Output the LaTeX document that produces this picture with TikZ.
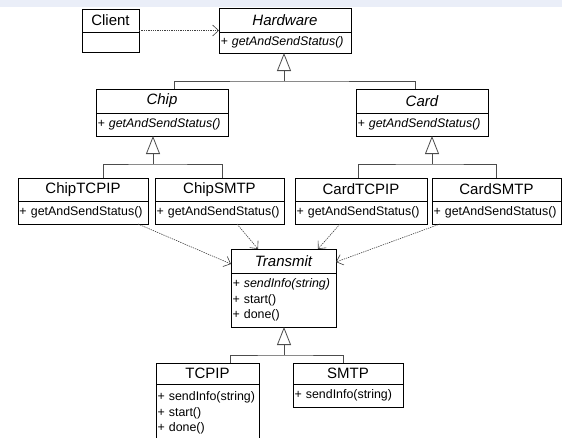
\documentclass[tikz,border=0pt]{standalone}
\usepackage{fontspec}
\setmainfont{Liberation Sans}
\usetikzlibrary{arrows.meta}
\newcommand\clsfont{\fontsize{15}{18}\selectfont}
\newcommand\mthfont{\fontsize{12.4}{15.5}\selectfont\hyphenpenalty=10000\exhyphenpenalty=10000}
\definecolor{bandblue}{RGB}{234,238,248}
\begin{document}
\begin{tikzpicture}[x=1pt,y=-1pt,
  cls/.style={draw=black, line width=0.9pt, fill=white, inner sep=0pt, outer sep=0pt,
              anchor=north west, font=\clsfont},
  mth/.style={draw=black, line width=0.9pt, fill=white, inner xsep=1.5pt, inner ysep=0pt,
              outer sep=0pt, anchor=north west, align=left, font=\mthfont},
  tree/.style={draw=black!70, line width=0.8pt},
  gen/.style={tree, -{Triangle[open, length=18pt, width=14pt, fill=white]}},
  dep/.style={draw=black!75, line width=0.6pt, dash pattern=on 1.3pt off 1pt,
              -{Straight Barb[length=6pt, width=11pt, line width=0.6pt]}}]
\useasboundingbox (0,0) rectangle (562,437);
\clip (0,0) rectangle (562,437);
\fill[white] (0,0) rectangle (562,437);
\fill[bandblue] (0,0) rectangle (562,7);

% Client
\node[cls, minimum width=57pt, minimum height=23pt] (cl) at (82,9) {Client};
\node[mth, minimum height=20pt, text width=54pt] (clm) at (cl.south west) {};

% Hardware
\node[cls, minimum width=132pt, minimum height=24pt] (hw) at (219,8) {\itshape Hardware};
\node[mth, minimum height=21pt, text width=129pt] (hwm) at (hw.south west) {\itshape + getAndSendStatus()};

% Chip and Card
\node[cls, minimum width=132pt, minimum height=24pt] (ch) at (96,89) {\itshape Chip};
\node[mth, minimum height=23pt, text width=129pt] (chm) at (ch.south west) {\itshape + getAndSendStatus()};
\node[cls, minimum width=132pt, minimum height=24pt] (ca) at (356,89) {\itshape Card};
\node[mth, minimum height=23pt, text width=129pt] (cam) at (ca.south west) {\itshape + getAndSendStatus()};

% concrete hardware classes
\node[cls, minimum width=130pt, minimum height=23pt] (ct) at (18,178) {ChipTCPIP};
\node[mth, minimum height=23pt, text width=127pt] (ctm) at (ct.south west) {+ getAndSendStatus()};
\node[cls, minimum width=129pt, minimum height=23pt] (cs) at (155,178) {ChipSMTP};
\node[mth, minimum height=23pt, text width=126pt] (csm) at (cs.south west) {+ getAndSendStatus()};
\node[cls, minimum width=132pt, minimum height=23pt] (kt) at (295,178) {CardTCPIP};
\node[mth, minimum height=23pt, text width=129pt] (ktm) at (kt.south west) {+ getAndSendStatus()};
\node[cls, minimum width=129pt, minimum height=23pt] (ks) at (432,178) {CardSMTP};
\node[mth, minimum height=23pt, text width=126pt] (ksm) at (ks.south west) {+ getAndSendStatus()};

% Transmit
\node[cls, minimum width=105pt, minimum height=24pt] (tr) at (231,249) {\itshape Transmit};
\node[mth, minimum height=54pt, text width=102pt] (trm) at (tr.south west)
  {{\itshape + sendInfo(string)}\\+ start()\\+ done()};

% TCPIP and SMTP
\node[cls, minimum width=103pt, minimum height=21pt] (tc) at (156,363) {TCPIP};
\node[mth, minimum height=58pt, text width=100pt] (tcm) at (tc.south west)
  {+ sendInfo(string)\\+ start()\\+ done()};
\node[cls, minimum width=110pt, minimum height=21pt] (sm) at (293,363) {SMTP};
\node[mth, minimum height=23pt, text width=107pt] (smm) at (sm.south west) {+ sendInfo(string)};

% generalization trees
\coordinate (hwJ) at (284,81);
\draw[tree] ([xshift=12pt]ch.north) |- (hwJ) -| ([xshift=-7pt]ca.north);
\draw[gen] (hwJ) -- (hwJ |- hwm.south);

\coordinate (chJ) at (153,164);
\draw[tree] ([xshift=20pt]ct.north) |- (chJ) -| ([xshift=2.5pt]cs.north);
\draw[gen] (chJ) -- (chJ |- chm.south);

\coordinate (caJ) at (432,164);
\draw[tree] ([xshift=-3pt]kt.north) |- (caJ) -| ([xshift=0pt]ks.north);
\draw[gen] (caJ) -- (caJ |- cam.south);

\coordinate (trJ) at (284,355);
\draw[tree] ([xshift=22.5pt]tc.north) |- (trJ) -| ([xshift=-5pt]sm.north);
\draw[gen] (trJ) -- (trJ |- trm.south);

% dependencies
\draw[dep] ([yshift=-10pt]cl.east) -- ([yshift=-10pt]cl.east -| hw.west);
\draw[dep] ([xshift=55pt]ctm.south) -- ([yshift=-3pt]tr.west);
\draw[dep] ([xshift=17.5pt]csm.south) -- ([xshift=-25.5pt]tr.north);
\draw[dep] ([xshift=-21pt]ktm.south) -- ([xshift=34.5pt]tr.north);
\draw[dep] ([xshift=-56.5pt]ksm.south) -- ([yshift=-1pt]tr.east);
\end{tikzpicture}
\end{document}
